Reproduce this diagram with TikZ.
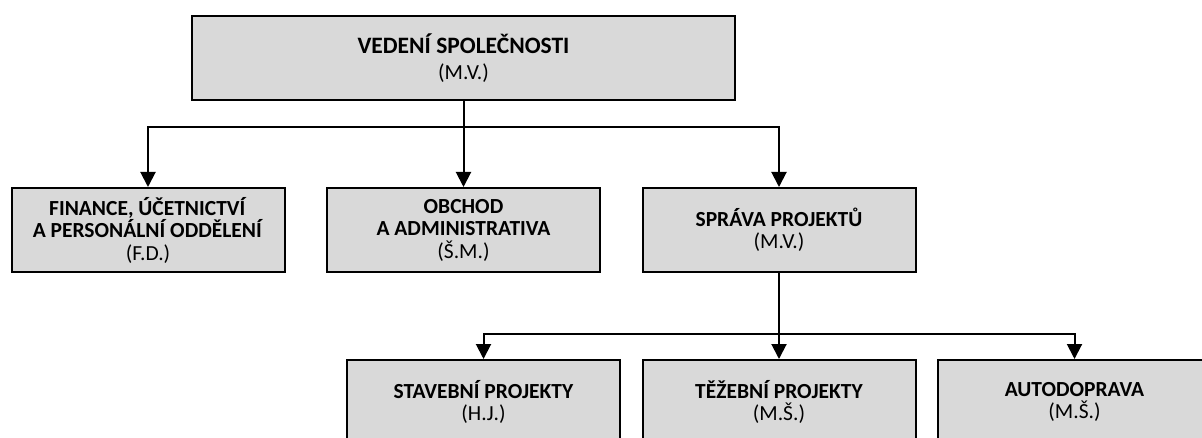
\documentclass[tikz,border=0pt]{standalone}
\usepackage{fontspec}
\setmainfont{Carlito}
\usetikzlibrary{arrows.meta}
\definecolor{boxfill}{HTML}{D9D9D9}
\begin{document}
\begin{tikzpicture}[x=1pt,y=-1pt,
  unit/.style={draw=black,line width=2pt,fill=boxfill,rectangle,
    minimum width=273pt,minimum height=84pt,inner sep=0pt,align=center,
    font=\fontsize{21.5}{22.5}\selectfont},
  link/.style={line width=2pt,-{Triangle[length=15pt,width=15pt]}}]
\useasboundingbox (0,0) rectangle (1202,438);

% management
\node[unit,minimum width=543pt] (top) at (463.5,58)
  {{\bfseries\fontsize{23.5}{24}\selectfont VEDENÍ SPOLEČNOSTI}\\[3pt](M.V.)};

% departments
\node[unit] (fin)  at (148,230)   {\textbf{FINANCE, ÚČETNICTVÍ}\\\textbf{A PERSONÁLNÍ ODDĚLENÍ}\\(F.D.)};
\node[unit] (obch) at (463.5,230) {\textbf{OBCHOD}\\\textbf{A ADMINISTRATIVA}\\(Š.M.)};
\node[unit] (spr)  at (779,230)   {\textbf{SPRÁVA PROJEKTŮ}\\(M.V.)};

% project units
\node[unit] (stav) at (483.5,402) {\textbf{STAVEBNÍ PROJEKTY}\\(H.J.)};
\node[unit] (tez)  at (779,402)   {\textbf{TĚŽEBNÍ PROJEKTY}\\(M.Š.)};
\node[unit] (auto) at (1074.5,402) {\textbf{AUTODOPRAVA}\\(M.Š.)};

% connectors
\draw[link] (top.south) -- ++(0,26) -| (fin.north);
\draw[link] (top.south) -- (obch.north);
\draw[link] (top.south) -- ++(0,26) -| (spr.north);

\draw[link] (spr.south) -- ++(0,61) -| (stav.north);
\draw[link] (spr.south) -- (tez.north);
\draw[link] (spr.south) -- ++(0,61) -| (auto.north);
\end{tikzpicture}
\end{document}
